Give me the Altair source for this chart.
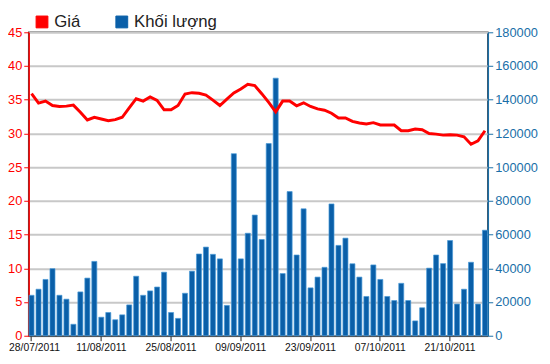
import altair as alt
import pandas as pd

dates = [
    "28/07/2011", "29/07/2011",
    "01/08/2011", "02/08/2011", "03/08/2011", "04/08/2011", "05/08/2011",
    "08/08/2011", "09/08/2011", "10/08/2011", "11/08/2011", "12/08/2011",
    "15/08/2011", "16/08/2011", "17/08/2011", "18/08/2011", "19/08/2011",
    "22/08/2011", "23/08/2011", "24/08/2011", "25/08/2011", "26/08/2011",
    "29/08/2011", "30/08/2011", "31/08/2011", "01/09/2011",
    "05/09/2011", "06/09/2011", "07/09/2011", "08/09/2011", "09/09/2011",
    "12/09/2011", "13/09/2011", "14/09/2011", "15/09/2011", "16/09/2011",
    "19/09/2011", "20/09/2011", "21/09/2011", "22/09/2011", "23/09/2011",
    "26/09/2011", "27/09/2011", "28/09/2011", "29/09/2011", "30/09/2011",
    "03/10/2011", "04/10/2011", "05/10/2011", "06/10/2011", "07/10/2011",
    "10/10/2011", "11/10/2011", "12/10/2011", "13/10/2011", "14/10/2011",
    "17/10/2011", "18/10/2011", "19/10/2011", "20/10/2011", "21/10/2011",
    "24/10/2011", "25/10/2011", "26/10/2011", "27/10/2011", "28/10/2011",
]

price = [
    35.9, 34.5, 34.8, 34.15, 34.0, 34.05, 34.2, 33.15, 32.0, 32.4,
    32.15, 31.9, 32.05, 32.4, 33.8, 35.15, 34.8, 35.4, 34.9, 33.5,
    33.5, 34.15, 35.85, 36.05, 35.95, 35.7, 34.95, 34.15, 35.1, 36.0,
    36.6, 37.3, 37.1, 35.9, 34.6, 33.2, 34.8, 34.8, 34.1, 34.55,
    34.0, 33.65, 33.45, 33.0, 32.3, 32.3, 31.8, 31.55, 31.4, 31.6,
    31.25, 31.25, 31.25, 30.4, 30.4, 30.65, 30.55, 30.0, 29.9, 29.75,
    29.8, 29.75, 29.5, 28.4, 28.9, 30.4,
]

volume = [
    24000, 27600, 33400, 39800, 24000, 21700, 6800, 26000, 34200, 44100,
    11000, 13800, 9500, 12400, 18300, 35300, 24000, 26600, 28900, 37700,
    13800, 10300, 25200, 38300, 48500, 52600, 48300, 45600, 18000, 108000,
    45600, 60800, 71600, 57100, 114000, 152800, 36900, 85500, 47900, 75300,
    28400, 34800, 40600, 78200, 53600, 57900, 42700, 34800, 23300, 42000,
    33400, 23300, 20900, 31100, 20900, 8800, 16600, 40100, 47900, 42800,
    56500, 18800, 27600, 43600, 18800, 62600,
]

tick_dates = ["28/07/2011", "11/08/2011", "25/08/2011", "09/09/2011",
              "23/09/2011", "07/10/2011", "21/10/2011"]
series = ["Giá", "Khối lượng"]
colors = ["#ff0000", "#0a5fa8"]

df = pd.DataFrame({"date": dates, "price": price, "volume": volume})
df["s_price"] = series[0]
df["s_vol"] = series[1]

color_scale = alt.Scale(domain=series, range=colors)
legend = alt.Legend(
    title=None, orient="none", legendX=5, legendY=-19, direction="horizontal",
    symbolType="square", symbolSize=144, symbolStrokeColor="#333333",
    symbolStrokeWidth=1, labelFontSize=17, labelFont="Liberation Sans",
    labelColor="#222222", columnPadding=33, labelOffset=4, symbolOpacity=1,
    gridAlign="none",
)

x = alt.X(
    "date:N", sort=None,
    scale=alt.Scale(paddingInner=0.28, paddingOuter=0.05),
    axis=alt.Axis(values=tick_dates, labelAngle=0, title=None, labelFontSize=10.5,
                  labelFont="Liberation Sans", labelColor="#111111",
                  labelOffset=alt.expr("datum.value == '28/07/2011' ? 3 : 0"),
                  domainColor="#222222", tickColor="#222222", tickSize=5,
                  labelPadding=2, grid=False),
)

bars = alt.Chart(df).mark_bar(stroke="#4a9ad8", strokeWidth=0.7).encode(
    x=x,
    y=alt.Y("volume:Q", scale=alt.Scale(domain=[0, 180000], nice=False),
            axis=alt.Axis(orient="right", values=list(range(0, 180001, 20000)),
                          format="d",
                          title=None, grid=False, labelColor="#1a6fa8",
                          domainColor="#1a6fa8", tickColor="#1a6fa8",
                          labelFontSize=13, labelFont="Liberation Sans",
                          domainWidth=1.5, tickSize=5, labelPadding=2)),
    color=alt.Color("s_vol:N", scale=color_scale, legend=legend),
)

line = alt.Chart(df).mark_line(strokeWidth=3).encode(
    x=x,
    y=alt.Y("price:Q", scale=alt.Scale(domain=[0, 45], nice=False),
            axis=alt.Axis(orient="left", values=list(range(0, 46, 5)),
                          title=None, grid=True, gridColor="#c8c8c8", gridWidth=2,
                          labelColor="#ff0000", domainColor="#ff0000",
                          tickColor="#ff0000", labelFontSize=13,
                          labelFont="Liberation Sans", domainWidth=1.5,
                          tickSize=5, labelPadding=2)),
    color=alt.Color("s_price:N", scale=color_scale, legend=legend),
)

chart = alt.layer(bars, line).resolve_scale(y="independent").properties(
    width=466, height=308,
    padding={"left": 21, "top": 22, "right": 55, "bottom": 26},
    autosize="none",
).configure_view(stroke="#444444", strokeWidth=1.5)

chart.save("out.html", embed_options={"renderer": "svg", "actions": False})
